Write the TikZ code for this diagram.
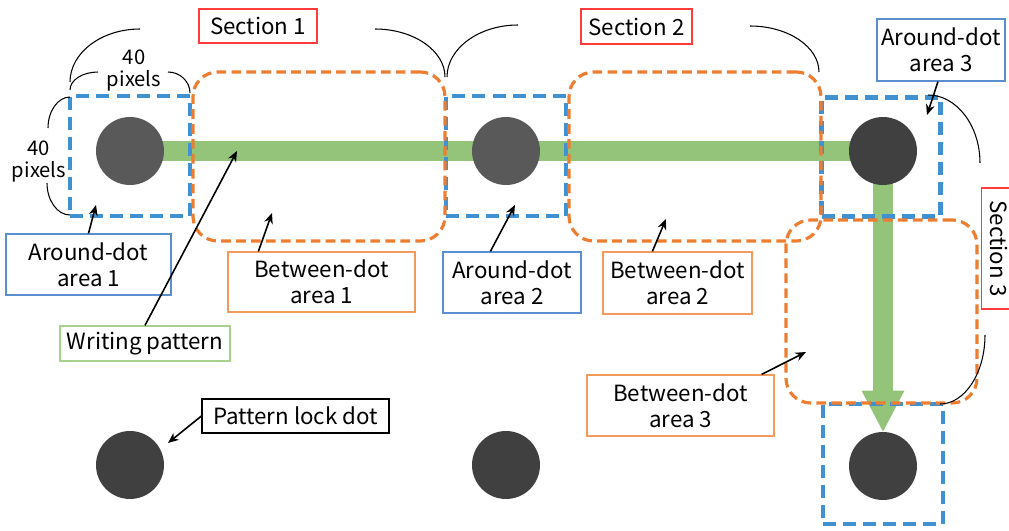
\documentclass[tikz,border=0pt]{standalone}
\usepackage{fontspec}
\setmainfont{Noto Sans CJK JP}
\usetikzlibrary{arrows.meta}
\pgfdeclarelayer{fundo}
\pgfsetlayers{fundo,main}
\definecolor{pontoclaro}{HTML}{595959}
\definecolor{pontoescuro}{HTML}{404040}
\definecolor{verde}{HTML}{93C47A}
\definecolor{azul}{HTML}{3F91D1}
\definecolor{laranja}{HTML}{ED7D31}
\definecolor{bordaazul}{HTML}{5B8FCF}
\definecolor{bordalaranja}{HTML}{F29B5C}
\definecolor{bordaverde}{HTML}{A9D18E}
\definecolor{bordavermelha}{HTML}{FF3B3B}
\begin{document}
\begin{tikzpicture}[x=0.02cm, y=-0.02cm]
\tikzset{
    >={Stealth[length=6pt,width=5pt]},
    ponto/.style={circle, fill=pontoescuro, inner sep=0pt, minimum size=1.36cm},
    traco/.style={line width=11.9pt, verde},
    quadrado/.style={rectangle, draw=azul, line width=2.8pt,
                     dash pattern=on 7.4pt off 4pt, inner sep=0pt, minimum size=2.4cm},
    entre/.style={rectangle, rounded corners=14pt, draw=laranja, line width=1.8pt,
                  dash pattern=on 5.5pt off 3pt, inner sep=0pt},
    caixa/.style={rectangle, draw, line width=0.7pt, align=center, inner sep=0pt,
                  font=\fontsize{12.7}{14.8}\selectfont},
    medida/.style={align=center, font=\fontsize{11.5}{12.5}\selectfont},
    seta/.style={->, line width=0.9pt},
    chave/.style={line width=0.6pt}
}
\useasboundingbox (0,0) rectangle (1009,531);
\clip (0,0) rectangle (1009,531);
% areas ao redor dos pontos
\node[quadrado] (q1) at (130,156) {};
\node[quadrado] (q2) at (506,156) {};
\node[quadrado, minimum size=2.38cm] (q3) at (881,157) {};
\node[quadrado] (q4) at (883,464) {};
% areas entre os pontos
\node[entre, minimum width=5.04cm, minimum height=3.38cm] (e1) at (319,156.5) {};
\node[entre, minimum width=5.04cm, minimum height=3.38cm] (e2) at (695,156.5) {};
\node[entre, minimum width=3.82cm, minimum height=3.66cm] (e3) at (881.5,311.5) {};
% pontos
\node[ponto, fill=pontoclaro] (d1) at (130,151) {};
\node[ponto, fill=pontoclaro] (d2) at (506,151) {};
\node[ponto] (d3) at (883,151) {};
\node[ponto] (d4) at (883,466) {};
\node[ponto] (d5) at (130,465) {};
\node[ponto] (d6) at (506,465) {};
% padrao desenhado
\begin{pgfonlayer}{fundo}
\draw[traco] (d1.center) -- (d3.center);
\draw[traco, -{Triangle[width=24.4pt,length=23.3pt,line width=0pt]}] (d3.center) -- (d4.north);
\end{pgfonlayer}
% chaves
\draw[chave] (70,82) .. controls (70,52.8) and (101.5,29) .. (140,29);
\draw[chave] (375,29) .. controls (413.5,29) and (445,50.6) .. (445,77);
\draw[chave] (447,77) .. controls (447,48.4) and (479,25) .. (518,25);
\draw[chave] (750,26) .. controls (788,26) and (819,46.7) .. (819,72);
\draw[chave] (70,90) .. controls (70,80) and (82.6,72) .. (98,72);
\draw[chave] (168,72) .. controls (180,72) and (190,81.5) .. (190,93);
\draw[chave] (70,97) .. controls (58,97) and (48,111) .. (48,128);
\draw[chave] (47,183) .. controls (47,200.6) and (57.4,215) .. (70,215);
\draw[chave] (928,95) .. controls (956.6,95) and (980,125.6) .. (980,163);
\draw[chave] (985,335) .. controls (985,373) and (964.8,404) .. (940,404);
% rotulos
\node[medida] (m1) at (134,70) {40\\pixels};
\node[medida] (m2) at (39,161) {40\\pixels};
\node[caixa, draw=bordavermelha, minimum width=2.36cm, minimum height=0.68cm] (s1) at (258,26) {Section 1};
\node[caixa, draw=bordavermelha, minimum width=2.22cm, minimum height=0.7cm] (s2) at (636.5,26.5) {Section 2};
\node[caixa, draw=bordavermelha, rotate=-90, minimum width=2.42cm, minimum height=0.68cm] (s3) at (998.5,248.5) {Section 3};
\node[caixa, draw=bordaazul, minimum width=3.3cm, minimum height=1.22cm] (ad1) at (88.5,264.5) {Around-dot\\area 1};
\node[caixa, draw=bordaazul, minimum width=2.76cm, minimum height=1.22cm] (ad2) at (512,282.5) {Around-dot\\area 2};
\node[caixa, draw=bordaazul, minimum width=2.56cm, minimum height=1.24cm] (ad3) at (941,50) {Around-dot\\area 3};
\node[caixa, draw=bordalaranja, minimum width=3.74cm, minimum height=1.2cm] (bd1) at (321.5,282) {Between-dot\\area 1};
\node[caixa, draw=bordalaranja, minimum width=2.98cm, minimum height=1.24cm] (bd2) at (677.5,283) {Between-dot\\area 2};
\node[caixa, draw=bordalaranja, minimum width=3.74cm, minimum height=1.22cm] (bd3) at (680.5,405.5) {Between-dot\\area 3};
\node[caixa, draw=bordaverde, minimum width=3.4cm, minimum height=0.7cm] (wp) at (145,343.5) {Writing pattern};
\node[caixa, draw=black, minimum width=3.74cm, minimum height=0.68cm] (pld) at (295.5,416) {Pattern lock dot};
% setas
\coordinate (t1) at (96,205);
\coordinate (t2) at (237,151);
\coordinate (t3) at (272,213);
\coordinate (t4) at (515,205);
\coordinate (t5) at (666,219);
\coordinate (t6) at (927,115);
\coordinate (t7) at (806,352);
\coordinate (t8) at (168,443);
\draw[seta] (ad1.north) -- (t1);
\draw[seta] (wp.north) -- (t2);
\draw[seta] (bd1.north west) ++(31,0) -- (t3);
\draw[seta] (ad2.north west) ++(48,0) -- (t4);
\draw[seta] (bd2.north west) ++(50,0) -- (t5);
\draw[seta] (ad3.south) ++(-3,0) -- (t6);
\draw[seta] (bd3.north east) ++(-13,0) -- (t7);
\draw[seta] (pld.west) -- (t8);
\end{tikzpicture}
\end{document}
